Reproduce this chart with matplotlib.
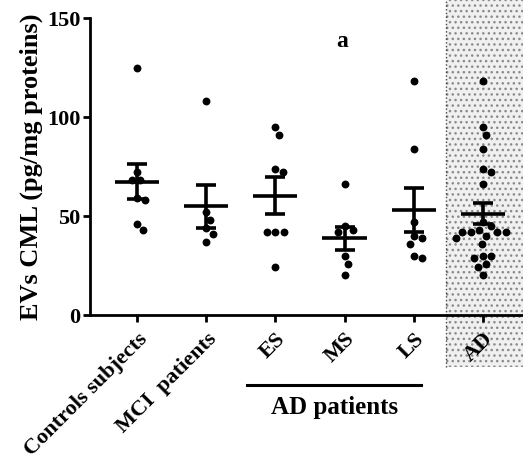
import numpy as np
import matplotlib
matplotlib.use("Agg")
import matplotlib.pyplot as plt
import matplotlib.transforms as mtransforms
from matplotlib.patches import Rectangle

plt.rcParams['font.family'] = 'Liberation Serif'
plt.rcParams['font.weight'] = 'bold'
plt.rcParams['axes.labelweight'] = 'bold'

# data (pg/mg proteins)
groups = ["Controls subjects", "MCI  patients", "ES", "MS", "LS", "AD"]
controls = [125, 72, 68, 68, 59, 58, 46, 43]
mci = [108, 52, 48, 44, 41, 37]
es = [95, 91, 74, 72, 42, 42, 42, 24]
ms = [66, 45, 43, 42, 30, 26, 20]
ls = [118, 84, 47, 40, 39, 36, 30, 29]
ad = es + ms + ls
series = [controls, mci, es, ms, ls, ad]


def swarm(vals, xscale=69.2, yscale=1.97, d=8.5):
    # simple beeswarm: offsets (in category units) so dots don't overlap
    vals = np.asarray(vals, float)
    cands = [0.0]
    for k in range(1, 80):
        cands += [k * 0.5, -k * 0.5]
    placed = []
    res = np.zeros(len(vals))
    for i in np.argsort(-vals):
        y = vals[i] * yscale
        for c in cands:
            if all((c - px) ** 2 + (y - py) ** 2 >= d ** 2 for px, py in placed):
                break
        placed.append((c, y))
        res[i] = c / xscale
    return res


fig = plt.figure(figsize=(5.23, 4.61), dpi=100)
ax = fig.add_axes([0.172, 0.3167, 0.828, 0.644])
ax.patch.set_alpha(0)

# shaded panel behind the pooled AD column
shade = Rectangle((446 / 523, 0.204), 1 - 446 / 523, 0.796, transform=fig.transFigure,
                  facecolor='#f0f0f0', edgecolor='#8a8a8a', hatch='...', lw=0,
                  zorder=0, clip_on=False)
ax.add_patch(shade)
ax.plot([446 / 523, 446 / 523], [0.204, 1.0], transform=fig.transFigure, color='#444444',
        ls=':', lw=1, clip_on=False, zorder=0.5)

for i, v in enumerate(series):
    v = np.asarray(v, float)
    xs = i + swarm(v)
    ax.scatter(xs, v, s=32, color='black', zorder=3, linewidths=0)
    m = v.mean()
    sem = v.std(ddof=1) / np.sqrt(len(v))
    ax.hlines(m, i - 0.32, i + 0.32, color='black', lw=2.6, zorder=4)
    ax.errorbar(i, m, yerr=sem, fmt='none', ecolor='black', elinewidth=2.6,
                capsize=7, capthick=2.6, zorder=4)

ax.set_xlim(-0.68, 5.58)
ax.set_ylim(0, 150)
ax.set_yticks([0, 50, 100, 150])
ax.set_xticks(range(len(groups)))
ax.set_xticklabels(groups, rotation=45, ha='right', va='top', rotation_mode='anchor',
                   fontsize=16)
for lab in ax.get_yticklabels():
    lab.set_fontsize(16)
ax.tick_params(axis='both', width=2, length=5, direction='out')
ax.tick_params(axis='x', pad=5)
ax.tick_params(axis='y', pad=2)
ax.spines['top'].set_visible(False)
ax.spines['right'].set_visible(False)
ax.spines['left'].set_linewidth(2)
ax.spines['bottom'].set_linewidth(2)
ax.set_ylabel("EVs CML (pg/mg proteins)", fontsize=19, labelpad=3)

ax.text(2.96, 138, 'a', ha='center', va='center', fontsize=17)

trans = mtransforms.blended_transform_factory(ax.transData, ax.transAxes)
ax.plot([1.59, 4.10], [-0.236, -0.236], color='black', lw=2.2, transform=trans, clip_on=False)
ax.text(2.86, -0.31, 'AD patients', ha='center', va='center', fontsize=18,
        transform=trans)

fig.savefig('out.png', dpi=100)
